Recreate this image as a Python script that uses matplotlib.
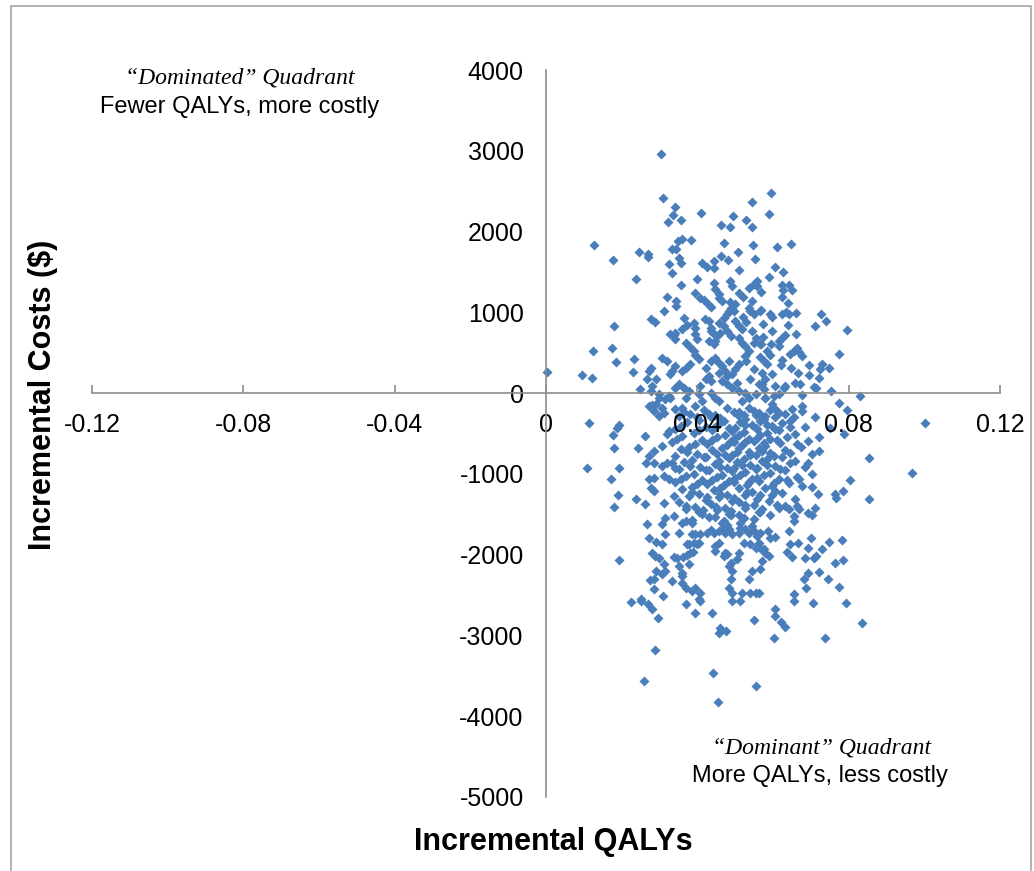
import numpy as np
import matplotlib.pyplot as plt
from matplotlib.patches import Rectangle

plt.rcParams['font.family'] = ['Liberation Sans', 'DejaVu Sans']
plt.rcParams['axes.unicode_minus'] = False

# Incremental QALYs (x 1/1000) and incremental costs ($)
# upper part of the cloud
qaly_upper = [30.3, 30.9, 34.0, 33.5, 32.3, 35.8, 40.9, 46.4, 48.6, 49.4,
              52.8, 54.5, 54.5, 12.6, 17.6, 24.7, 27.0, 27.0, 23.7, 34.9,
              36.0, 38.4, 33.2, 34.4, 35.1, 35.8, 32.4, 33.3, 41.3, 42.7,
              44.4, 44.5, 47.1, 46.2, 48.1, 50.7, 51.0, 54.7, 55.2, 40.0,
              35.8, 44.3, 44.8, 48.7, 32.1, 34.4, 34.4, 31.1, 39.3, 40.6,
              41.8, 42.8, 43.6, 45.7, 46.5, 48.7, 48.3, 51.0, 52.0, 53.6,
              54.9, 55.8, 18.0, 27.8, 28.9, 12.5, 17.4, 18.5, 23.2, 23.1,
              0.3, 9.6, 12.3, 24.8, 27.2, 27.9, 29.0, 30.7, 31.9, 32.9,
              33.8, 34.2, 36.4, 37.3, 36.0, 39.1, 39.5, 36.9, 38.2, 39.1,
              42.0, 43.0, 43.7, 44.4, 44.8]
cost_upper = [2962, 2418, 2303, 2200, 2121, 2146, 2228, 2080, 2055, 2187,
              2146, 2365, 2055, 1832, 1643, 1750, 1724, 1683, 1415, 1882,
              1903, 1890, 1779, 1786, 1675, 1613, 1593, 1489, 1605, 1563,
              1543, 1630, 1861, 1696, 1643, 1742, 1527, 1836, 1663, 1415,
              1333, 1362, 1287, 1387, 1192, 1139, 1077, 1015, 1242, 1180,
              1148, 1098, 1065, 1180, 1139, 1130, 1015, 1242, 1188, 1304,
              1346, 1387, 829, 912, 883, 516, 553, 387, 417, 264,
              264, 227, 182, 53, 272, 313, 170, 437, 396, 727,
              718, 665, 932, 838, 796, 870, 808, 623, 570, 520,
              912, 891, 808, 727, 644]

# just above / below the x axis
qaly_mid = [45.7, 49.2, 55.8, 54.5, 53.6, 54.0, 54.9, 56.7, 48.8, 49.6,
            47.9, 47.0, 45.7, 43.5, 43.0, 44.4, 45.2, 46.1, 47.0, 47.9,
            48.8, 50.1, 51.0, 51.8, 51.0, 51.8, 52.7, 53.6, 52.7, 54.5,
            55.4, 54.9, 56.7, 59.8, 60.6, 56.2, 55.4, 58.0, 34.2, 39.5,
            40.0, 39.5, 40.4, 38.2, 36.9, 36.0, 34.2, 33.4, 32.9, 26.7,
            28.1, 34.2, 35.1, 36.4, 37.8, 40.8, 42.2, 43.0, 43.5, 42.2,
            43.5, 44.8, 45.7, 46.6, 45.7, 47.4, 47.9, 49.2, 50.1, 51.0,
            48.3, 46.6, 47.9, 49.2, 50.5, 51.0, 52.7, 53.6, 51.8, 43.5,
            44.8, 45.7, 41.3, 40.4, 36.9, 32.9, 29.8, 28.1, 30.7, 36.0,
            39.5, 53.0, 55.0, 57.0, 54.0, 56.5, 58.5, 57.5, 53.0, 50.0,
            52.0]
cost_mid = [1221, 1324, 1324, 1139, 1056, 1015, 974, 1015, 1056, 1015,
            974, 932, 871, 767, 644, 602, 705, 747, 829, 767,
            705, 891, 829, 788, 685, 623, 582, 520, 458, 767,
            685, 623, 602, 231, 86, 107, -17, -58, 747, 726,
            664, 478, 417, 355, 313, 272, 334, 272, 231, 169,
            86, 66, 107, 66, 24, 86, 169, 210, 148, 313,
            396, 437, 375, 334, 251, 272, 210, 231, 293, 355,
            396, 148, 107, 66, 128, 24, 4, -58, -99, 4,
            -58, -99, -99, -17, -58, -58, -58, -141, -182, -182,
            -161, 400, 300, 250, 180, 450, 520, 700, 880, 1100,
            940]

# right side above the axis
qaly_right = [59.5, 58.9, 61.2, 64.9, 60.6, 59.0, 62.7, 62.4, 64.2, 65.0,
              62.6, 62.4, 56.9, 63.9, 56.8, 59.3, 59.8, 62.4, 63.4, 64.2,
              66.1, 72.8, 74.1, 71.0, 79.7, 57.3, 64.0, 59.7, 66.1, 63.3,
              62.4, 61.7, 61.5, 56.9, 59.6, 66.4, 65.7, 64.6, 66.8, 67.7,
              59.3, 57.6, 58.4, 62.4, 62.2, 64.8, 66.5, 69.6, 69.6, 72.3,
              72.5, 73.1, 74.7, 77.6, 65.9, 67.2, 63.3, 62.8, 58.0, 57.1,
              57.6, 70.8, 71.3, 75.4, 67.8, 61.5, 60.2, 58.0, 83.1, 77.6,
              79.5, 67.7, 65.0, 59.8, 60.6]
cost_right = [2476, 2216, 1811, 1845, 1560, 1440, 1498, 1333, 1333, 1279,
              1271, 1188, 1250, 1110, 1031, 974, 945, 974, 1003, 982,
              994, 974, 891, 829, 784, 858, 842, 768, 727, 718,
              677, 644, 582, 603, 603, 561, 520, 487, 511, 454,
              470, 396, 355, 412, 347, 305, 243, 347, 219, 190,
              301, 355, 305, 479, 128, 107, 87, 66, 170, 107,
              45, 74, 66, 25, -28, -16, -37, -58, -41, -120,
              -215, -161, -202, -140, -202]

# right side below the axis
qaly_lower_right = [100.1, 96.8, 85.3, 85.3, 80.4, 78.4, 76.5, 76.6, 78.9, 75.0,
                    72.3, 72.3, 69.4, 70.3, 66.8, 67.7, 71.9, 71.2, 70.3, 66.4,
                    66.8, 64.2, 65.7, 65.7, 64.2, 60.5, 58.7, 59.3, 64.6, 66.5,
                    63.6, 65.1, 69.2, 70.0, 73.0, 74.7, 78.2, 68.6, 70.8, 71.4,
                    76.3, 78.5, 69.4, 72.1, 68.1, 68.8, 74.5, 77.6, 65.7, 65.7,
                    70.6, 79.4, 60.5, 60.6, 62.2, 63.3, 60.4, 73.7, 83.5, 56.2]
cost_lower_right = [-368, -987, -801, -1309, -1077, -1213, -1254, -1296, -511, -430,
                    -545, -718, -870, -999, -1068, -1151, -1254, -1420, -1510, -1399,
                    -1440, -1440, -1523, -1585, -1708, -1783, -1708, -1791, -1865, -1853,
                    -1968, -2027, -1919, -1799, -1935, -1841, -1816, -2047, -2039, -2018,
                    -2101, -2072, -2233, -2213, -2300, -2411, -2307, -2398, -2493, -2575,
                    -2600, -2600, -2674, -2761, -2839, -2893, -3029, -3029, -2843, -2472]

# bottom tail
qaly_bottom = [22.6, 25.0, 26.9, 28.1, 29.6, 37.0, 39.3, 43.9, 40.7, 49.2,
               45.9, 45.7, 47.5, 55.1, 28.9, 25.9, 44.2, 45.4, 55.5]
cost_bottom = [-2587, -2575, -2608, -2678, -2782, -2616, -2720, -2720, -2575, -2575,
               -2913, -2967, -2951, -2810, -3178, -3566, -3467, -3822, -3632]

# left side below the axis
qaly_lower_left = [11.4, 10.9, 19.3, 18.8, 17.7, 18.0, 19.3, 17.1, 19.1, 18.1,
                   23.7, 19.3, 24.4, 26.3, 27.2, 28.5, 26.5, 28.5, 27.2, 27.9,
                   28.5, 31.1, 26.7, 27.2, 29.0, 28.1, 28.7, 30.7, 30.0, 31.1,
                   31.6, 29.0, 30.7, 28.5, 27.2, 28.5, 29.8, 31.1, 29.0, 27.7,
                   29.8, 31.6, 32.5, 30.7, 32.0, 32.5, 33.3, 34.2, 32.5, 33.8,
                   31.6, 30.7, 31.6, 34.7, 35.1, 36.0, 33.3, 36.0, 38.6, 39.5,
                   40.4, 26.3, 28.5, 30.7, 32.0, 31.2]
cost_lower_left = [-368, -929, -400, -437, -524, -677, -925, -1061, -1263, -1411,
                   -1316, -2071, -677, -532, -780, -718, -863, -863, -1069, -1172,
                   -1213, -1358, -1626, -1791, -1841, -1977, -2018, -1874, -2039, -2121,
                   -2204, -2204, -2245, -2307, -161, -223, -285, -244, -140, 25,
                   -16, -78, -37, -656, -511, -470, -863, -925, -1069, -1275,
                   -1544, -1626, -1750, -2039, -2142, -2225, -2328, -2349, -2451, -2411,
                   -2554, -1378, -1048, -904, -862, -1028]

# lower middle
qaly_lower_mid = [25.2, 27.4, 28.5, 31.0, 33.8, 36.2, 37.3, 38.2, 38.9, 37.8,
                  36.0, 36.9, 40.8, 35.1, 37.3, 38.6, 39.5, 40.4, 40.8, 42.6,
                  43.5, 44.4, 45.7, 46.5, 46.5, 47.9, 48.3, 47.4, 49.2, 51.0,
                  51.4, 36.0, 36.9, 38.6, 37.8, 39.1, 40.0, 44.8, 45.7, 44.8,
                  47.4, 47.0, 47.9, 48.8, 48.3, 51.0, 50.5, 49.2, 48.8, 48.3,
                  49.2, 51.8, 51.4, 51.4, 52.7, 53.6, 54.5, 54.9, 55.8, 56.7,
                  56.2, 54.0, 52.3, 55.4, 56.7, 57.6, 58.0, 58.9, 57.1, 56.7,
                  54.5, 53.6, 54.0, 55.4]
cost_lower_mid = [-2546, -2320, -2423, -2513, -2031, -2031, -2010, -1985, -1965, -2121,
                  -2266, -2411, -2472, -1729, -1865, -1750, -1750, -1853, -1750, -1729,
                  -1700, -1729, -1708, -1687, -1605, -1634, -1687, -1729, -1750, -1729,
                  -1605, -1605, -1585, -1605, -1874, -1853, -1874, -1894, -1853, -1956,
                  -1977, -2018, -1998, -2101, -2142, -1977, -2060, -2204, -2307, -2411,
                  -2472, -2472, -2575, -1667, -1687, -1729, -1646, -1708, -1770, -1729,
                  -1853, -1874, -1853, -1915, -1915, -1935, -1977, -2018, -2080, -2183,
                  -2204, -2307, -2472, -2472]

# dense core below the axis
qaly_core = [34.0, 38.2, 41.7, 44.8, 47.9, 51.0, 53.6, 56.2, 59.3, 63.3, 67.7,
             36.4, 40.0, 43.0, 46.1, 49.6, 52.3, 54.9, 58.0, 61.5, 65.5,
             35.1, 40.4, 43.5, 47.0, 50.8, 52.7, 55.4, 57.6, 60.6, 64.6, 71.2,
             37.3, 42.2, 45.7, 48.3, 51.4, 54.5, 56.7, 59.8, 62.4, 68.6,
             35.6, 40.4, 44.8, 49.2, 52.7, 55.8, 58.4, 60.6, 64.6,
             34.2, 39.1, 43.9, 47.4, 50.1, 52.3, 55.4, 58.4, 61.5, 65.9,
             36.0, 41.3, 45.2, 48.8, 51.0, 53.6, 56.7, 59.3, 63.7, 69.4,
             34.7, 39.5, 43.9, 47.9, 50.1, 52.7, 55.8, 57.6, 61.1, 66.4,
             33.3, 37.8, 42.6, 46.6, 49.6, 51.8, 54.9, 58.0, 62.0, 67.5,
             35.6, 40.0, 43.9, 47.4, 51.0, 53.6, 56.2, 59.3, 63.3, 70.3,
             37.3, 41.7, 45.2, 48.3, 50.5, 54.0, 57.1, 60.2, 64.6,
             34.2, 38.6, 42.2, 45.7, 49.2, 52.3, 55.4, 58.4, 62.4, 65.9,
             36.4, 40.8, 44.8, 47.9, 50.5, 54.0, 57.1, 60.6, 64.6, 68.6,
             38.2, 42.2, 46.1, 49.2, 51.8, 55.4, 58.4, 62.0,
             35.1, 39.1, 43.0, 46.6, 49.6, 52.7, 55.8, 59.3, 63.3,
             36.9, 41.3, 45.2, 48.3, 51.4, 54.5, 57.6, 61.5, 66.4,
             35.6, 40.0, 43.9, 47.0, 50.1, 53.6, 55.8, 60.2, 63.7,
             34.2, 38.6, 42.6, 46.1, 49.6, 53.2, 56.2, 59.8, 64.2, 70.3,
             36.0, 40.4, 44.4, 47.9, 51.0, 54.5, 58.0, 62.4,
             38.6, 42.6, 46.1, 49.6, 53.2, 56.7, 60.6,
             37.8, 42.2, 45.7, 49.2, 52.7, 55.8, 59.8, 65.9,
             35.1, 39.5, 43.5, 47.4, 51.0, 54.9, 58.9, 63.3,
             37.0, 41.5, 45.0, 49.0, 52.5, 57.1, 61.0,
             36.9, 41.3, 45.2, 48.8, 52.7, 56.7, 61.5, 69.4,
             40.4, 44.8, 48.3, 52.3, 56.2,
             33.8, 38.6, 43.0, 47.0, 51.0, 54.9, 59.3]
cost_core = [-198, -253, -213, -268, -188, -233, -183, -243, -208, -258, -218,
             -239, -294, -254, -309, -229, -274, -224, -284, -249, -299,
             -280, -335, -295, -350, -270, -315, -265, -325, -290, -340, -300,
             -363, -418, -378, -433, -353, -398, -348, -408, -373, -423,
             -404, -459, -419, -474, -394, -439, -389, -449, -414,
             -445, -500, -460, -515, -435, -480, -430, -490, -455, -505,
             -528, -583, -543, -598, -518, -563, -513, -573, -538, -588,
             -569, -624, -584, -639, -559, -604, -554, -614, -579, -629,
             -611, -666, -626, -681, -601, -646, -596, -656, -621, -671,
             -693, -748, -708, -763, -683, -728, -678, -738, -703, -753,
             -735, -790, -750, -805, -725, -770, -720, -780, -745,
             -776, -831, -791, -846, -766, -811, -761, -821, -786, -836,
             -858, -913, -873, -928, -848, -893, -843, -903, -868, -918,
             -900, -955, -915, -970, -890, -935, -885, -945,
             -941, -996, -956, -1011, -931, -976, -926, -986, -951,
             -1023, -1078, -1038, -1093, -1013, -1058, -1008, -1068, -1033,
             -1065, -1120, -1080, -1135, -1055, -1100, -1050, -1110, -1075,
             -1106, -1161, -1121, -1176, -1096, -1141, -1091, -1151, -1116, -1166,
             -1188, -1243, -1203, -1258, -1178, -1223, -1173, -1233,
             -1230, -1285, -1245, -1300, -1220, -1265, -1215,
             -1271, -1326, -1286, -1341, -1261, -1306, -1256, -1316,
             -1353, -1408, -1368, -1423, -1343, -1388, -1338, -1398,
             -1395, -1450, -1410, -1465, -1385, -1430, -1380,
             -1436, -1491, -1451, -1506, -1426, -1471, -1421, -1481,
             -1477, -1532, -1492, -1547, -1467,
             -1518, -1573, -1533, -1588, -1508, -1553, -1503]

x_ticks = [-0.12, -0.08, -0.04, 0, 0.04, 0.08, 0.12]
x_labels = ['-0.12', '-0.08', '-0.04', '0', '0.04', '0.08', '0.12']
y_ticks = [-5000, -4000, -3000, -2000, -1000, 0, 1000, 2000, 3000, 4000]

qaly = np.array(qaly_upper + qaly_mid + qaly_right + qaly_lower_right + qaly_bottom
                + qaly_lower_left + qaly_lower_mid + qaly_core) / 1000.0
cost = np.array(cost_upper + cost_mid + cost_right + cost_lower_right + cost_bottom
                + cost_lower_left + cost_lower_mid + cost_core)

fig = plt.figure(figsize=(10.34, 8.71), dpi=100)
ax = fig.add_axes([0.089, 0.085, 0.878, 0.8346])

ax.scatter(qaly, cost, marker='D', s=26, color='#4A7EBB', linewidths=0)

ax.set_xlim(-0.12, 0.12)
ax.set_ylim(-5000, 4000)
ax.set_xticks(x_ticks)
ax.set_xticklabels(x_labels)
ax.set_yticks(y_ticks)

# axes cross at the origin
ax.spines['left'].set_position(('data', 0))
ax.spines['bottom'].set_position(('data', 0))
ax.spines['top'].set_visible(False)
ax.spines['right'].set_visible(False)
for s in ['left', 'bottom']:
    ax.spines[s].set_color('#8C8C8C')
    ax.spines[s].set_linewidth(1.2)
ax.tick_params(axis='x', direction='in', length=6, width=1.2, color='#8C8C8C',
               labelsize=18, pad=14)
ax.tick_params(axis='y', direction='in', length=0, width=1.2, color='#8C8C8C',
               labelsize=18, pad=16)

# axis titles
fig.text(0.5348, 0.0333, 'Incremental QALYs', ha='center', va='center',
         fontsize=22, fontweight='bold')
fig.text(0.0416, 0.5465, 'Incremental Costs ($)', ha='center', va='center',
         rotation=90, fontsize=22, fontweight='bold')

# quadrant notes
fig.text(0.232, 0.9104, '\u201cDominated\u201d Quadrant', ha='center', va='center',
         fontsize=17, style='italic', family='Liberation Serif')
fig.text(0.232, 0.8771, 'Fewer QALYs, more costly', ha='center', va='center', fontsize=17)
fig.text(0.795, 0.1412, '\u201cDominant\u201d Quadrant', ha='center', va='center',
         fontsize=17, style='italic', family='Liberation Serif')
fig.text(0.793, 0.1091, 'More QALYs, less costly', ha='center', va='center', fontsize=17)

# chart frame
fig.patches.append(Rectangle((0.0106, -0.02), 0.9865, 1.0131, transform=fig.transFigure,
                             fill=False, edgecolor='#A6A6A6', linewidth=1.2))

fig.savefig('out.png', dpi=100)
